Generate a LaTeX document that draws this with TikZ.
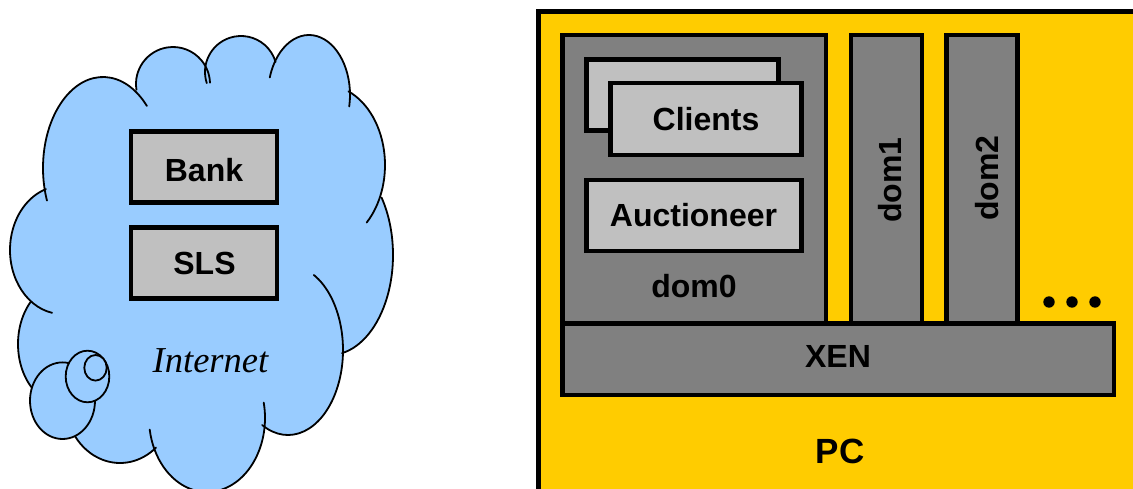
\documentclass[tikz,border=0pt]{standalone}
\usepackage{fontspec}
\setmainfont{Liberation Sans}
\newfontfamily\serifit{Liberation Serif}
\definecolor{cloudblue}{RGB}{153,204,255}
\definecolor{lightbox}{RGB}{192,192,192}
\definecolor{darkbox}{RGB}{128,128,128}
\definecolor{pcyellow}{RGB}{255,204,0}
\newcommand\cbumpfill[4]{\fill[cloudblue] (#1,-#2) ellipse[x radius=#3,y radius=#4];}
\newcommand\cbumpline[6]{\draw[cloudline] (#1,-#2) ++(#5:#3 and #4) arc[start angle=#5,end angle=#6,x radius=#3,y radius=#4];}
\begin{document}
\begin{tikzpicture}[x=1pt,y=1pt,
  cloudline/.style={line width=1.8pt,line cap=round},
  thick box/.style={draw=black,line width=4.5pt,inner sep=0pt,outer sep=0pt},
  lightrect/.style={thick box,fill=lightbox},
  darkrect/.style={thick box,fill=darkbox},
  pcrect/.style={thick box,fill=pcyellow},
  txt/.style={font=\fontsize{32}{38}\selectfont\bfseries,inner sep=0pt,anchor=base},
  bigtxt/.style={font=\fontsize{35}{42}\selectfont\bfseries,inner sep=0pt,anchor=base},
  inettxt/.style={font=\serifit\itshape\fontsize{36.5}{42}\selectfont,inner sep=0pt,anchor=base},
  dotmark/.style={circle,fill=black,inner sep=0pt,minimum size=11.4pt}
]
\useasboundingbox (0,0) rectangle (1133,-489);
\clip (0,0) rectangle (1133,-489);
\fill[white] (0,0) rectangle (1133,-489);

% ---------- Cloud ----------
\fill[cloudblue] (103,-168) -- (173,-84) -- (241,-72) -- (309,-95) -- (325,-165) -- (330,-255)
  -- (288,-350) -- (207,-418) -- (120,-400) -- (62,-400) -- (62,-344) -- (62,-250) -- cycle;
\cbumpfill{103}{168}{60}{91}
\cbumpfill{173}{84}{37}{37}
\cbumpfill{241}{72}{36}{36}
\cbumpfill{309}{95}{41}{60}
\cbumpfill{325}{165}{60}{80}
\cbumpfill{330}{255}{63}{100}
\cbumpfill{288}{350}{55}{85}
\cbumpfill{207}{418}{58}{74}
\cbumpfill{120}{400}{55}{63}
\cbumpfill{62}{344}{44}{60}
\cbumpfill{62}{250}{52}{64}

\cbumpline{103}{168}{60}{91}{43}{201}
\cbumpline{173}{84}{37}{37}{189}{2}
\cbumpline{241}{72}{36}{36}{198}{16}
\cbumpline{309}{95}{41}{60}{163}{-11}
\cbumpline{325}{165}{60}{80}{67}{-46}
\cbumpline{330}{255}{63}{100}{35}{-79}
\cbumpline{288}{350}{55}{85}{62}{-118}
\cbumpline{207}{418}{58}{74}{12}{-171}
\cbumpline{120}{400}{55}{63}{-49}{-145}
\cbumpline{62}{344}{44}{60}{228}{135}
\cbumpline{62}{250}{52}{64}{259}{108}

\draw[cloudline,fill=cloudblue] (62.5,-400.7) ellipse[x radius=32.5,y radius=38.3];
\draw[cloudline,fill=cloudblue] (87.5,-376.5) ellipse[x radius=21.8,y radius=25.8];
\draw[cloudline,fill=cloudblue] (95.5,-367.8) ellipse[x radius=11.2,y radius=12.8];

\node[lightrect,minimum width=146pt,minimum height=71.4pt] (bank) at (204,-167) {};
\node[lightrect,minimum width=146pt,minimum height=71pt] (sls) at (204,-262.8) {};
\node[txt] (banktxt) at (204,-181.7) {Bank};
\node[txt] (slstxt) at (204.5,-275) {SLS};
\node[inettxt] (internet) at (210.5,-372) {Internet};

% ---------- PC ----------
\node[pcrect,minimum width=621.5pt,minimum height=508.3pt] (pc) at (849.25,-265.85) {};
\node[darkrect,minimum width=263.5pt,minimum height=288.3pt] (dom0) at (694,-179.2) {};
\node[darkrect,minimum width=71.3pt,minimum height=288.3pt] (dom1) at (886.4,-179.2) {};
\node[darkrect,minimum width=71.2pt,minimum height=288.3pt] (dom2) at (982.1,-179.2) {};
\node[darkrect,minimum width=551.7pt,minimum height=71.7pt] (xen) at (838.2,-359.2) {};
\node[lightrect,minimum width=192.2pt,minimum height=71.2pt] (clientsback) at (682.4,-95.1) {};
\node[lightrect,minimum width=191.1pt,minimum height=72pt] (clients) at (706,-119) {};
\node[lightrect,minimum width=215.2pt,minimum height=70.8pt] (auct) at (693.9,-215.4) {};

\node[txt] (clientstxt) at (706,-131) {Clients};
\node[txt] (aucttxt) at (693.5,-226.7) {Auctioneer};
\node[txt] (dom0txt) at (694,-297.7) {dom0};
\node[txt,rotate=90] (dom1txt) at (901.7,-180) {dom1};
\node[txt,rotate=90] (dom2txt) at (998.5,-178) {dom2};
\node[txt] (xentxt) at (838,-367.3) {XEN};
\node[bigtxt] (pctxt) at (840,-463.3) {PC};

\node[dotmark] (dot1) at (1049,-302) {};
\node[dotmark] (dot2) at (1072,-302) {};
\node[dotmark] (dot3) at (1095,-302) {};
\end{tikzpicture}
\end{document}
